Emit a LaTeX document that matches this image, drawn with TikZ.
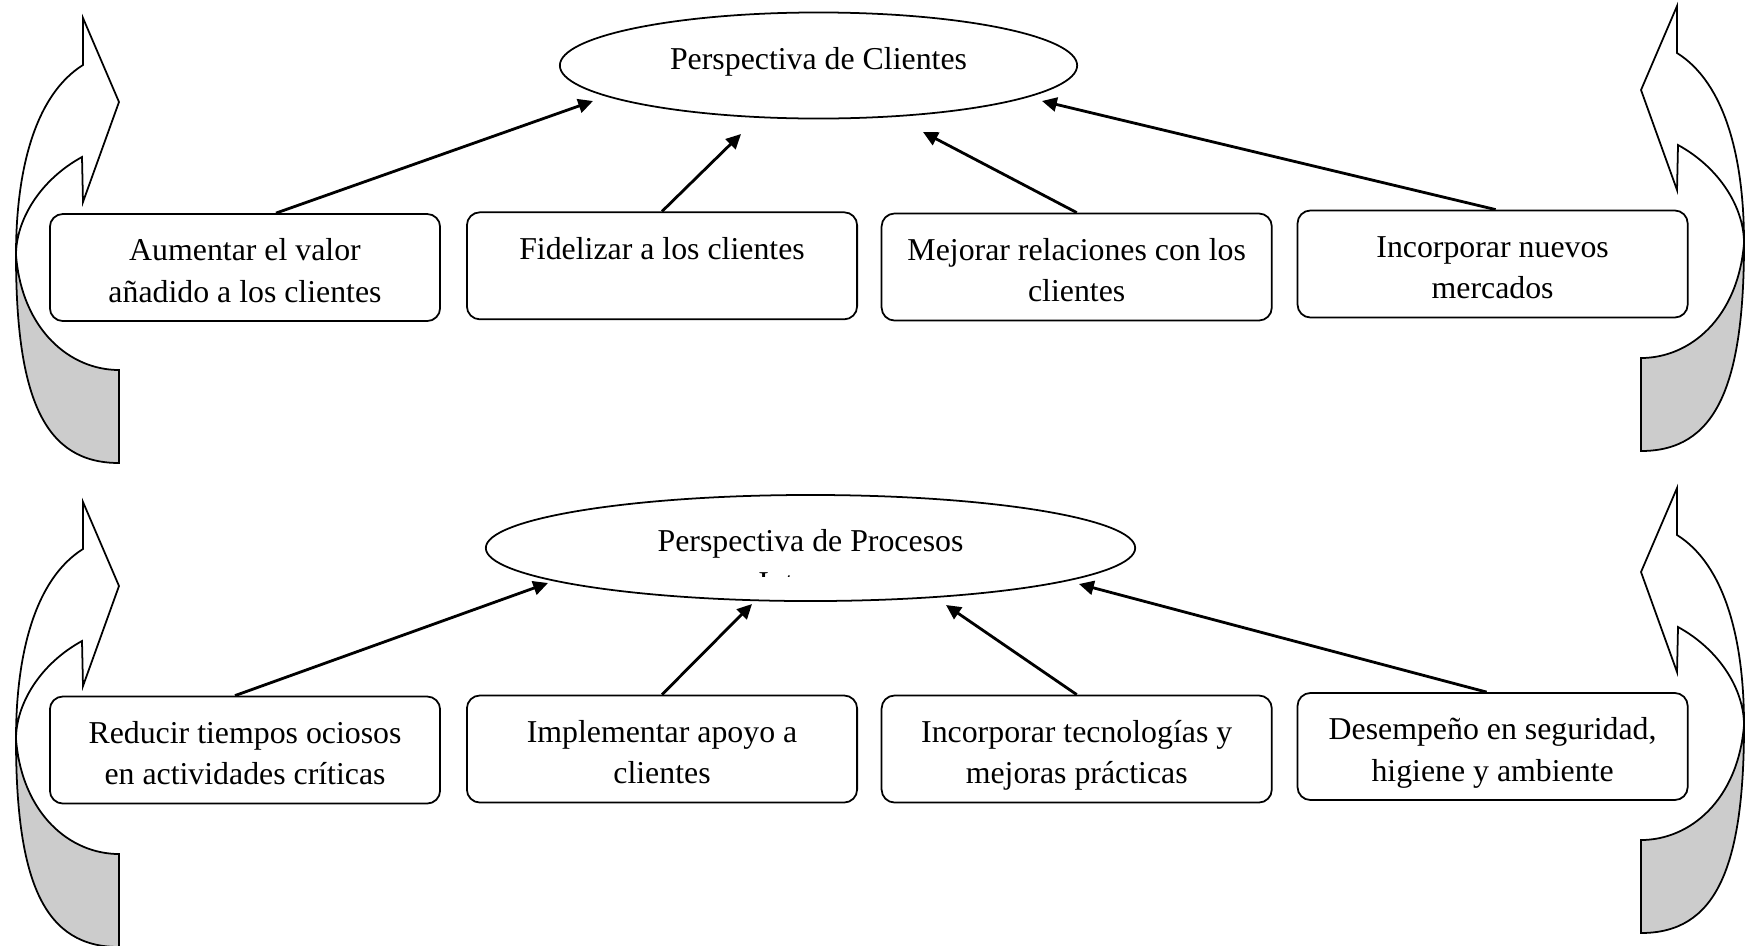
\documentclass[tikz,border=0pt]{standalone}
\usepackage{fontspec}
\setmainfont{Liberation Serif}
\usetikzlibrary{shapes,arrows.meta,calc}
\definecolor{sidegray}{RGB}{204,204,204}
\newcommand{\boxlines}[1]{\begin{tabular}[t]{@{}c@{}}#1\end{tabular}}
\tikzset{
	box/.style={rectangle,rounded corners=0.13cm,draw,line width=0.5pt,minimum width=3.9cm,minimum height=1.07cm,inner sep=0pt,
		font=\fontsize{9.05}{11.8}\selectfont,text height=6pt,text depth=9.74pt},
	persp/.style={ellipse,draw,line width=0.5pt,minimum height=1.06cm,inner sep=0pt,font=\fontsize{9.05}{11.8}\selectfont,text height=6.2pt,text depth=3.94pt},
	diredge/.style={-{Triangle[width=4pt,length=4.2pt]},color=black,line width=0.8pt},
	sideline/.style={draw,line width=0.5pt},
	sideback/.style={fill=sidegray}
}

\begin{document}
\begin{tikzpicture}[x=0.01cm,y=-0.01cm]
\useasboundingbox (0,0) rectangle (1755,945);

%%%% side arrows
\foreach \sx/\dx/\dy in {1/0/0, -1/1760/-12, 1/0/484, -1/1760/470} {
\begin{scope}[shift={(\dx,\dy)},xscale=\sx]
\fill[sideback] (16,255) .. controls (16,400) and (45,463) .. (119,463) -- (119,370)
  .. controls (70,370) and (22,330) .. (16,255) -- cycle;
\draw[sideline] (119,463) .. controls (45,463) and (16,400) .. (16,255)
  .. controls (16,170) and (35,95) .. (83,65) -- (83,18) -- (119,102) -- (83,202) -- (82,157)
  .. controls (40,180) and (16,220) .. (16,255)
  .. controls (22,330) and (70,370) .. (119,370) -- cycle;
\end{scope}
}

%%%% Perspectiva de Clientes
\node[persp,minimum width=5.17cm] (pc) at (818.5,65.5) {Perspectiva de Clientes};

\node[box] (c1) at (245,267.5) {\boxlines{Aumentar el valor\\a\~nadido a los clientes}};
\node[box] (c2) at (662,265.8) {\boxlines{Fidelizar a los clientes}};
\node[box] (c3) at (1076.7,267) {\boxlines{Mejorar relaciones con los\\clientes}};
\node[box] (c4) at (1492.6,264) {\boxlines{Incorporar nuevos\\mercados}};

\coordinate (tc1) at (593,101);
\coordinate (tc2) at (741,134);
\coordinate (tc3) at (923,132);
\coordinate (tc4) at (1042,101);

\draw[diredge] ([xshift=0.31cm]c1.north) -- (tc1);
\draw[diredge] (c2.north) -- (tc2);
\draw[diredge] (c3.north) -- (tc3);
\draw[diredge] ([xshift=0.03cm]c4.north) -- (tc4);

%%%% Perspectiva de Procesos
\node[persp,minimum width=6.49cm] (pp) at (810.5,548) {Perspectiva de Procesos};
\begin{scope}
\clip (486,495) rectangle (1135,576);
\node[anchor=base,inner sep=0pt,font=\fontsize{9.05}{11.8}\selectfont] (pint) at (810.5,593.5) {Internos};
\end{scope}

\node[box] (p1) at (245,750) {\boxlines{Reducir tiempos ociosos\\en actividades cr\'iticas}};
\node[box] (p2) at (662,749) {\boxlines{Implementar apoyo a\\clientes}};
\node[box] (p3) at (1076.7,749) {\boxlines{Incorporar tecnolog\'ias y\\mejoras pr\'acticas}};
\node[box] (p4) at (1492.6,746.5) {\boxlines{Desempe\~no en seguridad,\\higiene y ambiente}};

\coordinate (tp1) at (548,583);
\coordinate (tp2) at (752,604);
\coordinate (tp3) at (946,605);
\coordinate (tp4) at (1079,584);

\draw[diredge] ([xshift=-0.1cm]p1.north) -- (tp1);
\draw[diredge] (p2.north) -- (tp2);
\draw[diredge] (p3.north) -- (tp3);
\draw[diredge] ([xshift=-0.06cm]p4.north) -- (tp4);
\end{tikzpicture}
\end{document}
